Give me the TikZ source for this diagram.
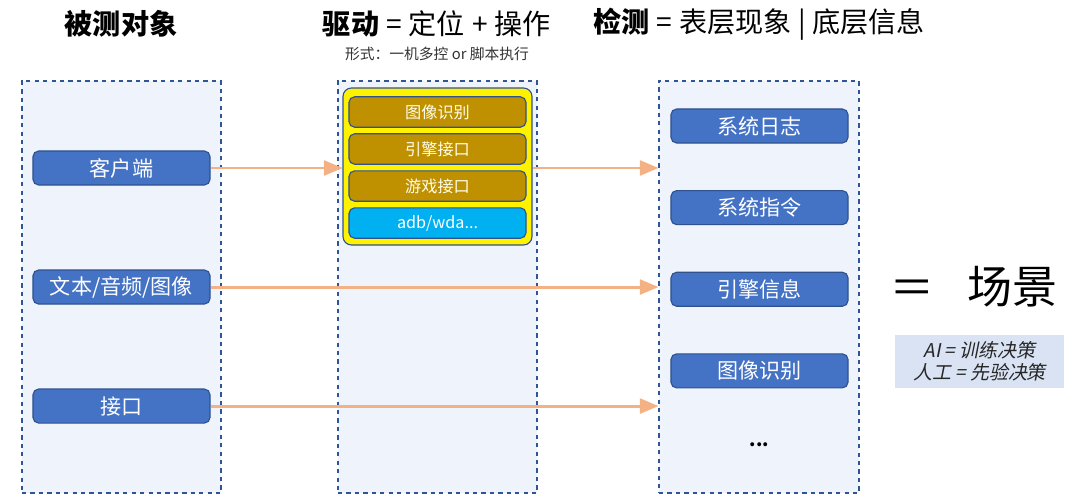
\documentclass[tikz,border=0pt]{standalone}
\usepackage{fontspec}
\setmainfont{Noto Sans CJK SC}
\newfontfamily\slantfont[FakeSlant=0.2]{Noto Sans CJK SC}
\usetikzlibrary{positioning,arrows,fit}

\definecolor{colfill}{HTML}{EFF3FB}
\definecolor{colline}{HTML}{2F5597}
\definecolor{nodeblue}{HTML}{4472C4}
\definecolor{nodeline}{HTML}{2F528F}
\definecolor{brown}{HTML}{BF9000}
\definecolor{cyanbox}{HTML}{00B0F0}
\definecolor{arrowor}{HTML}{F4B183}
\definecolor{notefill}{HTML}{DAE3F3}

\tikzset{
  col/.style={draw=colline,fill=colfill,dashed,line width=0.9pt,inner sep=0pt},
  obj/.style={draw=nodeline,fill=nodeblue,rounded corners=4pt,line width=0.8pt,
    minimum width=4.425cm,minimum height=0.85cm,text=white,font=\fontsize{15}{17}\selectfont},
  drv/.style={draw=nodeline,fill=brown,rounded corners=4pt,line width=0.8pt,
    minimum width=4.425cm,minimum height=0.76cm,text=white!92!yellow,font=\fontsize{11.5}{13}\selectfont},
  stack/.style={draw=nodeline,fill=yellow,rounded corners=6pt,line width=0.8pt,inner sep=0pt},
  flow/.style={->,>=triangle 45,draw=arrowor,line width=2.1pt},
  title/.style={font=\fontsize{20}{24}\selectfont}
}

\begin{document}
\begin{tikzpicture}[x=0.025cm,y=-0.025cm,on grid]
   \useasboundingbox (0,0) rectangle (1080,494);
   % columns
   \node[col,fit={(22,81) (221,493)}] (colL) {};
   \node[col,fit={(338,81) (537,493)}] (colM) {};
   \node[col,fit={(659,81) (859,493)}] (colR) {};
   % titles
   \node[title] (t1) at (121,24) {\textbf{被测对象}};
   \node[title] (t2) at (437,24) {\textbf{驱动}\hspace{0.25em}=\hspace{0.25em}定位\hspace{0.25em}+\hspace{0.25em}操作};
   \node[font=\fontsize{10.5}{12}\selectfont,text=black!80] (t2s) [below=0.75cm of t2] {形式：一机多控 or 脚本执行};
   \node[title] (t3) at (759,24) {\textbf{检测}\hspace{0.25em}=\hspace{0.25em}表层现象 | 底层信息};
   % tested objects
   \node[obj] (c1) at (121.5,168) {客户端};
   \node[obj] (c2) [below=2.975cm of c1] {文本/音频/图像};
   \node[obj] (c3) [below=2.975cm of c2] {接口};
   % driver stack
   \node[stack,fit={(343,88) (532,245)}] (yel) {};
   \node[drv] (d1) at (437.5,112) {图像识别};
   \node[drv] (d2) [below=0.925cm of d1] {引擎接口};
   \node[drv] (d3) [below=0.925cm of d2] {游戏接口};
   \node[drv,fill=cyanbox,text=white] (d4) [below=0.925cm of d3] {adb/wda...};
   % detection
   \node[obj] (s1) at (759.5,126) {系统日志};
   \node[obj] (s2) [below=2.04cm of s1] {系统指令};
   \node[obj] (s3) [below=2.04cm of s2] {引擎信息};
   \node[obj] (s4) [below=2.04cm of s3] {图像识别};
   \node[font=\fontsize{13}{15}\selectfont\bfseries] (s5) [below=1.85cm of s4] {...};
   % scene
   \node[font=\fontsize{32}{36}\selectfont,anchor=west] (sc) at (889,287) {\scalebox{1.5}[1]{=}\hspace{0.8em}场景};
   \node[fill=notefill,minimum width=4.225cm,minimum height=1.325cm,inner sep=1pt,align=center,
     font=\slantfont\fontsize{13.5}{16}\selectfont,text=black!85] (ai) at (979.5,361.5)
     {AI = 训练决策\\人工 = 先验决策};
   % arrows
   \draw[flow] (c1.east) -- (c1.east -| yel.west);
   \draw[flow] (c1.east -| yel.east) -- (c1.east -| colR.west);
   \draw[flow] (c2.east) -- (c2.east -| colR.west);
   \draw[flow] (c3.east) -- (c3.east -| colR.west);
\end{tikzpicture}
\end{document}
